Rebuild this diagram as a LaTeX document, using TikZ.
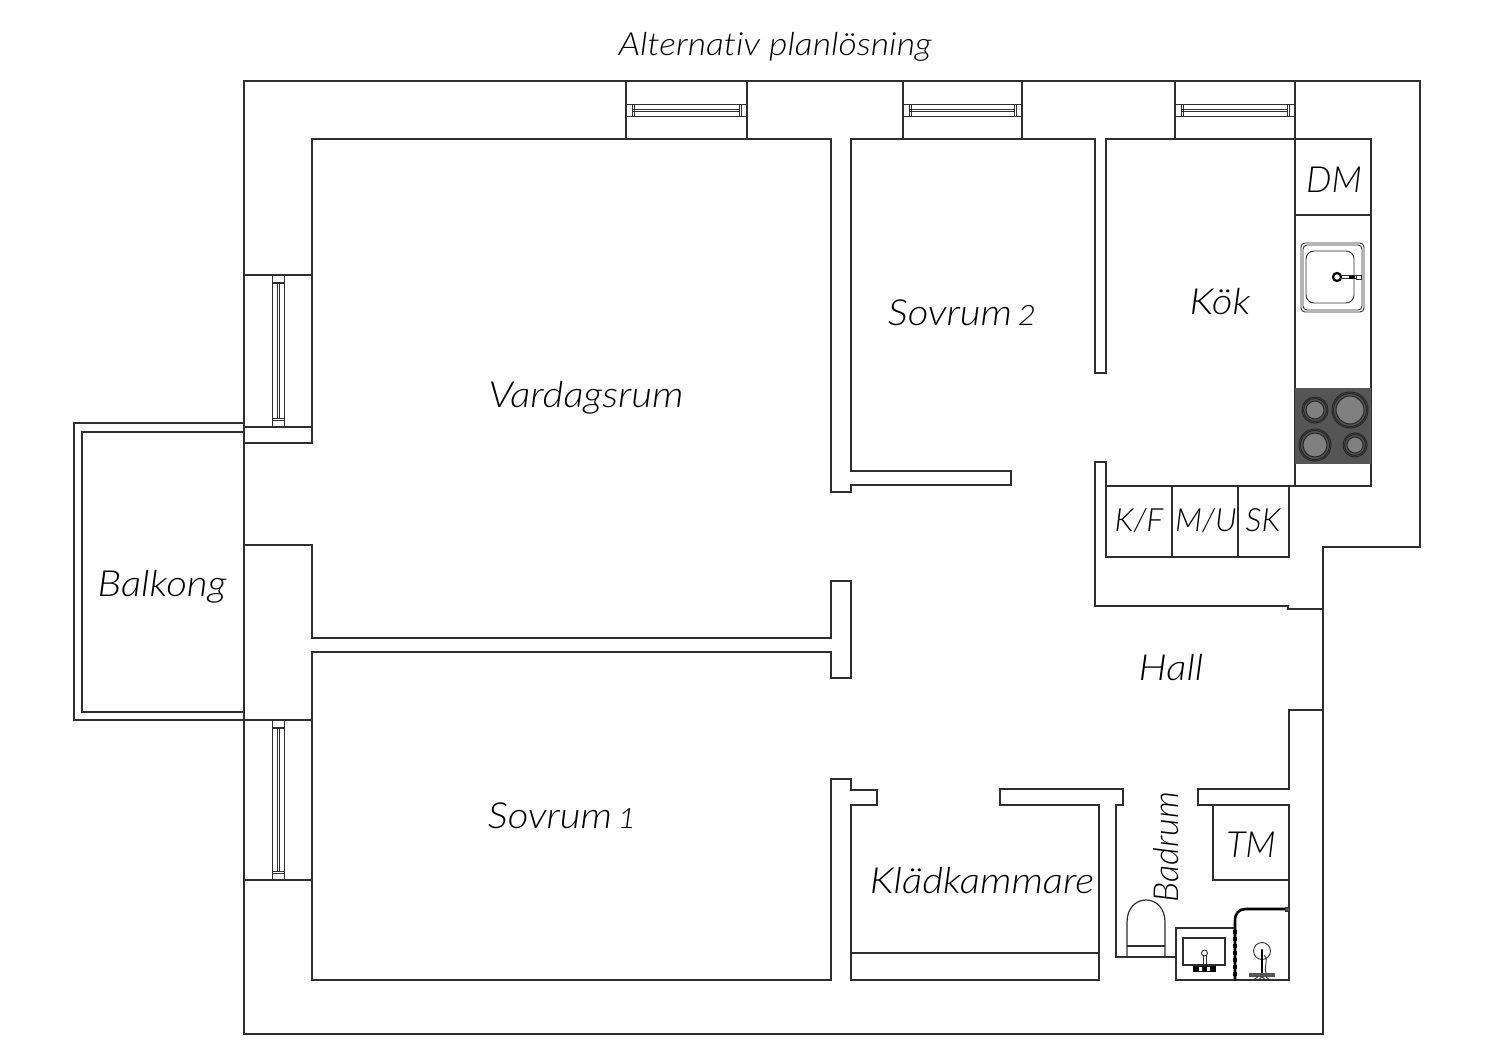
\documentclass[tikz,border=0pt]{standalone}
\usepackage{fontspec}
\setmainfont{Lato}[UprightFont=* Light,ItalicFont=* Light Italic,BoldFont=* Light,BoldItalicFont=* Light Italic,Ligatures=NoCommon]
\newfontfamily\widelato{Lato}[UprightFont=* Light,ItalicFont=* Light Italic,BoldFont=* Light,BoldItalicFont=* Light Italic,FakeStretch=1.12,Ligatures=NoCommon]
\definecolor{wallc}{HTML}{2E2E2E}
\definecolor{stovec}{HTML}{555555}
\definecolor{burnc}{HTML}{808080}
\tikzset{
  wall/.style={draw=wallc,line width=0.6pt,line join=miter},
  thin wall/.style={draw=wallc,line width=0.45pt},
  heavy/.style={draw=black,line width=1.3pt,line cap=round},
  lab/.style={text=black,inner sep=0pt,font=\fontsize{18}{20}\selectfont\itshape},
  widelab/.style={lab,font=\widelato\fontsize{18}{20}\selectfont\itshape},
  titlelab/.style={lab,font=\widelato\fontsize{15.9}{20}\selectfont\itshape},
  smalllab/.style={lab,font=\fontsize{16}{18}\selectfont\itshape},
  burner/.style={draw=black!85,fill=stovec,line width=0.5pt}
}
\newcommand{\smalldigit}[1]{\hspace{-0.12em}{\fontsize{14}{16}\selectfont #1}}
\begin{document}
\begin{tikzpicture}[x=0.5pt,y=-0.5pt]
\useasboundingbox (0,0) rectangle (1500,1060);
\fill[white] (0,0) rectangle (1500,1060);
% outer shell
\draw[wall] (244,81) -- (1420,81) -- (1420,547) -- (1323,547) -- (1323,1034) -- (244,1034) -- cycle;
% top windows
\foreach \a/\b in {626/747,903/1022,1175/1295}{
  \draw[wall] (\a,81) -- (\a,139) (\b,81) -- (\b,139);
  \draw[thin wall] (\a,104) -- (\b,104) (\a,116) -- (\b,116);
  \draw[thin wall] (\a+6,104) -- (\a+6,116) (\a+8,104) -- (\a+8,116) (\b-8,104) -- (\b-8,116) (\b-6,104) -- (\b-6,116);
  \draw[thin wall] (\a+7,109) -- (\b-7,109) (\a+7,111.5) -- (\b-7,111.5);
}
% left windows
\foreach \a/\b in {275/427,720/880}{
  \draw[wall] (244,\a) -- (312,\a) (244,\b) -- (312,\b);
  \draw[thin wall] (272,\a) -- (272,\b) (284,\a) -- (284,\b);
  \draw[thin wall] (272,\a+7) -- (284,\a+7) (272,\a+8.5) -- (284,\a+8.5) (272,\b-7) -- (284,\b-7) (272,\b-8.5) -- (284,\b-8.5);
  \draw[thin wall] (277,\a+8) -- (277,\b-8) (279,\a+8) -- (279,\b-8);
}
% balcony
\draw[wall] (244,423) -- (74,423) -- (74,720) -- (244,720);
\draw[wall] (244,432) -- (82,432) -- (82,712) -- (244,712);
% living room and bedroom 2 walls
\draw[wall] (244,443) -- (312,443) -- (312,139) -- (831,139) -- (831,492) -- (851,492) -- (851,485) -- (1011,485) -- (1011,471) -- (851,471) -- (851,139) -- (1095,139) -- (1095,373) -- (1106,373) -- (1106,139) -- (1371,139) -- (1371,486) -- (1106,486);
\draw[wall] (1295,139) -- (1295,486);
\draw[wall] (1295,215) -- (1371,215);
% partition
\draw[wall] (244,545) -- (312,545) -- (312,638) -- (831,638) -- (831,581) -- (851,581) -- (851,678) -- (831,678) -- (831,652) -- (312,652) -- (312,980) -- (831,980) -- (831,779) -- (851,779) -- (851,790) -- (877,790) -- (877,805) -- (851,805) -- (851,980) -- (1099,980) -- (1099,805) -- (1000,805) -- (1000,789) -- (1123,789) -- (1123,805) -- (1116,805) -- (1116,957) -- (1176,957);
\draw[wall] (851,953) -- (1099,953);
% bathroom right
\draw[wall] (1323,710) -- (1289,710) -- (1289,789) -- (1198,789) -- (1198,805) -- (1289,805) -- (1289,980) -- (1176,980) -- (1176,928) -- (1235,928);
\draw[wall] (1213,805) -- (1213,880) -- (1289,880);
% cabinets and hall wall
\draw[wall] (1106,486) -- (1106,462) -- (1095,462) -- (1095,606) -- (1288,606) -- (1288,609) -- (1323,609);
\draw[wall] (1106,486) -- (1106,557) -- (1289,557) -- (1289,486);
\draw[wall] (1172,486) -- (1172,557) (1238,486) -- (1238,557);
% kitchen sink
\draw[thin wall,rounded corners=2pt] (1301,243) rectangle (1364,312);
\draw[thin wall,rounded corners=2pt] (1303,245) rectangle (1362,310);
\draw[thin wall,rounded corners=4pt] (1306,251) rectangle (1354,303);
\draw[black,line width=1.1pt] (1337,277) circle (4);
\draw[thin wall] (1340,275.5) -- (1360,275.5) (1340,278.5) -- (1360,278.5);
\fill[black] (1349,275.5) rectangle (1355,278.5);
\draw[thin wall,fill=white] (1356,275) rectangle (1361,279);
% stove
\fill[stovec] (1295,388) rectangle (1371,464);
\foreach \x/\y/\r in {1315/410/13,1350/410/18,1315/445/16,1355/445/12}{
  \draw[burner] (\x,\y) circle (\r);
  \draw[burner] (\x,\y) circle (\r-1.5);
  \draw[burner,fill=burnc] (\x,\y) circle (\r-4);
}
% toilet
\draw[wall] (1127,957) -- (1127,922) .. controls (1127,908) and (1136,900) .. (1146,900) .. controls (1156,900) and (1165,908) .. (1165,922) -- (1165,957);
\draw[wall] (1127,946) -- (1165,946);
% basin
\draw[wall] (1183,938) rectangle (1225,965);
\draw[thin wall] (1203,955) -- (1203,966) (1206,955) -- (1206,966);
\draw[thin wall,fill=white] (1204.5,953) circle (3);
\fill[black] (1193,966) rectangle (1216,972);
\fill[white] (1199,967) rectangle (1202,971) (1207,967) rectangle (1210,971);
% shower
\draw[heavy] (1235,980) -- (1235,921) .. controls (1235,913) and (1239,909) .. (1246,909) -- (1285,909);
\draw[black,line width=1.9pt,dash pattern=on 2pt off 1.5pt] (1235,930) -- (1235,979);
\draw[thin wall,fill=stovec] (1285,907) rectangle (1289,911);
\draw[thin wall] (1262,951) circle (8.5);
\draw[heavy] (1262,950) -- (1262,977);
\draw[thin wall] (1264,955) .. controls (1270,962) and (1262,966) .. (1267,975);
\fill[stovec] (1249,973) rectangle (1275,977);
\draw[thin wall] (1253,980) -- (1258,977) (1258,980) -- (1262,977) (1266,977) -- (1270,980) (1262,977) -- (1266,980);
% labels
\node[titlelab] (title) at (775,47) {Alternativ planlösning};
\node[widelab] (vardagsrum) at (586,398) {Vardagsrum};
\node[widelab] (sovrum2) at (962,313) {Sovrum \smalldigit{2}};
\node[widelab] (kok) at (1220,302) {Kök};
\node[lab] (dm) at (1334,180) {DM};
\node[widelab] (balkong) at (162,587) {Balkong};
\node[widelab] (hall) at (1171,668) {Hall};
\node[widelab] (sovrum1) at (562,816) {Sovrum \smalldigit{1}};
\node[widelab] (kladkammare) at (982,881) {Klädkammare};
\node[lab] (tm) at (1251,845) {TM};
\node[lab,font=\fontsize{17.2}{20}\selectfont\itshape,rotate=90] (badrum) at (1166,847) {Badrum};
\node[smalllab] (kf) at (1139,521) {K/F};
\node[smalllab] (mu) at (1206,521) {M/U};
\node[smalllab] (sk) at (1263,520) {SK};
\end{tikzpicture}
\end{document}
